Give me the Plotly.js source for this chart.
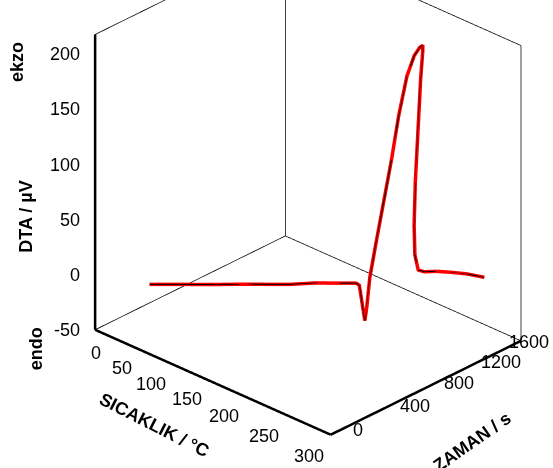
<!DOCTYPE html>
<html><head><meta charset="utf-8">
<script src="https://cdn.plot.ly/plotly-3.0.1.min.js"></script>
<style>html,body{margin:0;padding:0;background:#fff}#g{width:553px;height:468px}#err{position:absolute;left:0;top:0;font:12px Arial;color:blue}</style>
</head><body><div id="g"></div><div id="err"></div>
<script>
const time = [140,200,300,400,500,600,700,800,900,965,980,990,1000,1010,1022,1055,1090,1125,1160,1195,1230,1255,1270,1282,1292,1302,1312,1322,1335,1350,1370,1400,1430,1460,1490];
const temp = [48,58,75,92,108,125,142,158,175,186,188,190,192,193,195,199,203,207,211,216,220,223,225,223,219,214,209,206,205,207,212,222,236,252,270];
const dta  = [-1,-1,-1,-1,-1,-1,-1,0,0,0,-2,-18,-34,-22,5,40,75,110,150,185,203,210,212,205,180,130,80,40,12,-2,-3,-1,1,3,4];
const xRange = [0,300], yRange = [0,1600], zRange = [-50,218];
const xTicks = [0,50,100,150,200,250,300];
const yTicks = [0,400,800,1200,1600];
const zTicks = [-50,0,50,100,150,200];
try{
const x0=xRange[0],x1=xRange[1],y0=yRange[0],y1=yRange[1],z0=zRange[0],z1=zRange[1];
function pad(r){const d=(r[1]-r[0])*0.004;return [r[0]-d,r[1]+d];}
function seg(a,b,w){return {type:'scatter3d',mode:'lines',x:[a[0],b[0]],y:[a[1],b[1]],z:[a[2],b[2]],line:{color:'#000',width:w},hoverinfo:'skip',showlegend:false};}
const data=[
 seg([x0,y0,z0],[x0,y1,z0],1.5), seg([x0,y1,z0],[x1,y1,z0],1.5), seg([x0,y1,z0],[x0,y1,z1],1.5),
 seg([x0,y0,z1],[x0,y1,z1],1.5), seg([x0,y1,z1],[x1,y1,z1],1.5), seg([x1,y1,z0],[x1,y1,z1],1.5),
 seg([x0,y0,z0],[x1,y0,z0],5), seg([x1,y0,z0],[x1,y1,z0],5), seg([x0,y0,z0],[x0,y0,z1],5),
 {type:'scatter3d',mode:'lines',x:temp,y:time,z:dta,line:{color:'#ff0000',width:7},showlegend:false},
 {type:'scatter3d',mode:'lines',x:temp,y:time,z:dta,line:{color:'#000000',width:2},showlegend:false}
];
const font="Arial";
function ax(range){return {title:{text:''},range:pad(range),showticklabels:false,showgrid:false,zeroline:false,showbackground:false,showline:false,ticks:'',showspikes:false,autorange:false};}
const tf={family:font,size:18,color:'#000'};
const bf={family:font,size:18,color:'#000',weight:'bold'};
const xLabelDx=[8,0,-6,-9,-11,-10,-5], xLabelDy=[-23,-21,-19,-17,-16,-19,-21];
const ann=[];
xTicks.forEach((v,i)=>ann.push({x:v,y:y0,z:z0,text:String(v),showarrow:false,font:tf,xanchor:'right',yanchor:'middle',xshift:xLabelDx[i],yshift:xLabelDy[i]}));
yTicks.forEach(v=>{const f=v/1600;ann.push({x:x1,y:v,z:z0,text:String(v),showarrow:false,font:tf,xanchor:'left',yanchor:'middle',xshift:20-34*f*f*f,yshift:5-18*Math.pow(f,1.5)+12*f});});
zTicks.forEach(v=>ann.push({x:x0,y:y0,z:v,text:String(v),showarrow:false,font:tf,xanchor:'right',yanchor:'middle',xshift:-13}));
ann.push({x:(x0+x1)/2,y:y0,z:z0,text:'SICAKLIK / °C',showarrow:false,font:bf,textangle:27,xanchor:'center',yanchor:'middle',xshift:-59,yshift:-43});
ann.push({x:x1,y:(y0+y1)/2,z:z0,text:'ZAMAN / s',showarrow:false,font:bf,textangle:-35,xanchor:'center',yanchor:'middle',xshift:46,yshift:-54});
const ctr={x:-0.034,y:-0.160,z:-0.175};
const eye0={x:0.876,y:-0.922,z:0.675};
const layout={width:553,height:468,margin:{l:0,r:0,t:0,b:0},paper_bgcolor:'#fff',showlegend:false,
 scene:{domain:{x:[0,1],y:[0,1]},aspectmode:'manual',aspectratio:{x:1.4,y:1.19,z:1.44},
  camera:{eye:{x:eye0.x+ctr.x,y:eye0.y+ctr.y,z:eye0.z+ctr.z},center:ctr,up:{x:0,y:0,z:1},projection:{type:'orthographic'}},
  xaxis:ax(xRange),yaxis:ax(yRange),zaxis:ax(zRange),annotations:ann},
 annotations:[
  {text:'ekzo',xref:'paper',yref:'paper',x:0.031,y:0.868,xanchor:'center',yanchor:'middle',showarrow:false,textangle:-90,font:bf},
  {text:'DTA / µV',xref:'paper',yref:'paper',x:0.048,y:0.536,xanchor:'center',yanchor:'middle',showarrow:false,textangle:-90,font:bf},
  {text:'endo',xref:'paper',yref:'paper',x:0.065,y:0.256,xanchor:'center',yanchor:'middle',showarrow:false,textangle:-90,font:bf}
 ]};
Plotly.newPlot('g',data,layout,{displayModeBar:false}).catch(e=>{document.getElementById('err').textContent='ERR '+e;});
}catch(e){document.getElementById('err').textContent='EXC '+e;}
</script></body></html>
